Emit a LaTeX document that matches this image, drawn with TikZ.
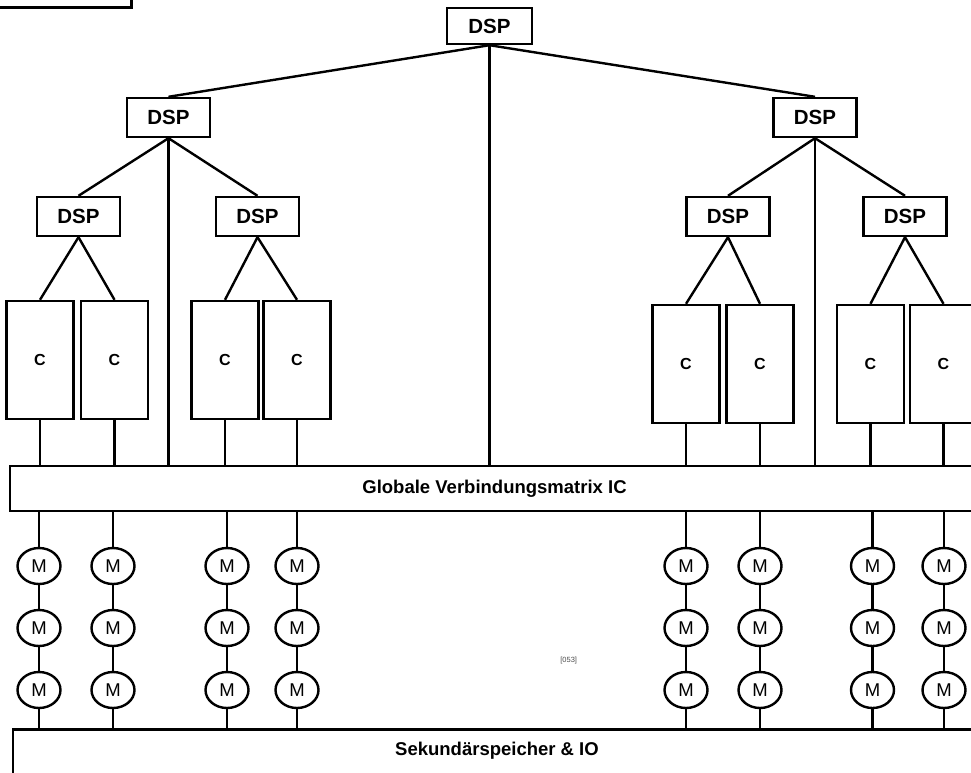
\documentclass[tikz,border=0pt]{standalone}
\usepackage{fontspec}
\setmainfont{Liberation Sans}
\usetikzlibrary{shapes.geometric}

\tikzset{
  wire/.style={line width=2.4pt, black},
  dspbox/.style={draw, line width=2.4pt, minimum width=83pt, minimum height=39pt, inner sep=0pt,
    font=\fontsize{20.5}{24}\selectfont\bfseries},
  corebox/.style={draw, line width=2.4pt, minimum width=67pt, minimum height=118pt, inner sep=0pt,
    font=\fontsize{16}{19}\selectfont\bfseries},
  membox/.style={draw, ellipse, line width=2.4pt, minimum width=43pt, minimum height=36pt, inner sep=0pt,
    font=\fontsize{18.5}{21}\selectfont},
  barbox/.style={draw, line width=2.4pt, inner sep=0pt},
  barlabel/.style={font=\fontsize{18.5}{22}\selectfont\bfseries, inner sep=0pt},
}

\begin{document}
\begin{tikzpicture}[x=1pt, y=-1pt]
\useasboundingbox (0,0) rectangle (971,773);

% frame corner at the top left
\node[draw, line width=3.2pt, minimum width=143.4pt, minimum height=55.4pt, inner sep=0pt] (frame) at (60,-20) {};

% DSP hierarchy
\node[dspbox, minimum width=85pt, minimum height=36pt] (d0) at (489.5,26) {DSP};
\node[dspbox] (dl) at (168.5,117.5) {DSP};
\node[dspbox] (dr) at (815,117.5) {DSP};
\node[dspbox] (dla) at (78.5,216.5) {DSP};
\node[dspbox] (dlb) at (257.5,216.5) {DSP};
\node[dspbox] (dra) at (728,216.5) {DSP};
\node[dspbox] (drb) at (905,216.5) {DSP};

% compute cores
\node[corebox] (c1) at (40,360) {C};
\node[corebox] (c2) at (114.5,360) {C};
\node[corebox] (c3) at (225,360) {C};
\node[corebox] (c4) at (297,360) {C};
\node[corebox] (c5) at (686,364) {C};
\node[corebox] (c6) at (760,364) {C};
\node[corebox] (c7) at (870.5,364) {C};
\node[corebox] (c8) at (943.5,364) {C};

% interconnect and storage bars
\node[barbox, minimum width=975pt, minimum height=45pt] (ic) at (497.5,488.5) {};
\node[barlabel] (iclabel) at (494.5,488.5) {Globale Verbindungsmatrix IC};
\node[barbox, minimum width=975pt, minimum height=80pt] (sek) at (500.5,769.5) {};
\node[barlabel] (seklabel) at (497,751) {Sekundärspeicher \& IO};

\node[font=\fontsize{7.5}{9}\selectfont, text=black!70, inner sep=0pt] (tag) at (568.7,661) {[053]};

% memory columns
\foreach \i/\x in {1/39,2/113,3/227,4/297,5/686,6/760,7/872.5,8/944}{
  \node[membox] (m\i a) at (\x,566) {M};
  \node[membox] (m\i b) at (\x,628) {M};
  \node[membox] (m\i c) at (\x,690) {M};
  \draw[wire] (ic.south -| m\i a) -- (m\i a.north);
  \draw[wire] (m\i a) -- (m\i b);
  \draw[wire] (m\i b) -- (m\i c);
  \draw[wire] (m\i c.south) -- (m\i c.south |- sek.north);
}

% tree links
\draw[wire] (d0.south) -- (dl.north);
\draw[wire] (d0.south) -- (dr.north);
\draw[wire] (d0.south) -- (d0.south |- ic.north);
\draw[wire] (dl.south) -- (dla.north);
\draw[wire] (dl.south) -- (dlb.north);
\draw[wire] (dl.south) -- (dl.south |- ic.north);
\draw[wire] (dr.south) -- (dra.north);
\draw[wire] (dr.south) -- (drb.north);
\draw[wire] (dr.south) -- (dr.south |- ic.north);
\draw[wire] (dla.south) -- (c1.north);
\draw[wire] (dla.south) -- (c2.north);
\draw[wire] (dlb.south) -- (c3.north);
\draw[wire] (dlb.south) -- (c4.north);
\draw[wire] (dra.south) -- (c5.north);
\draw[wire] (dra.south) -- (c6.north);
\draw[wire] (drb.south) -- (c7.north);
\draw[wire] (drb.south) -- (c8.north);

% cores to interconnect
\foreach \c in {c1,c2,c3,c4,c5,c6,c7,c8}{
  \draw[wire] (\c.south) -- (\c.south |- ic.north);
}
\end{tikzpicture}
\end{document}
